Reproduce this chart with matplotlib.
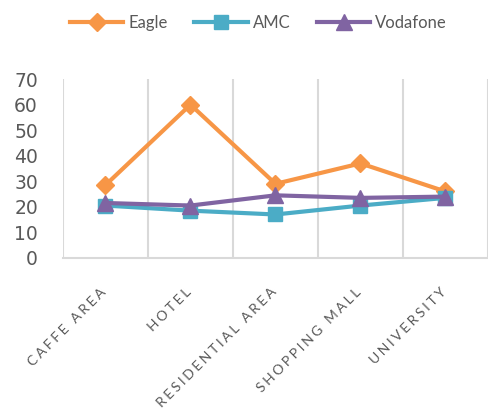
import numpy as np
import matplotlib
matplotlib.use('Agg')
from matplotlib import pyplot as plt
from matplotlib.transforms import ScaledTranslation

# data
places = ['CAFFE AREA', 'HOTEL', 'RESIDENTIAL AREA', 'SHOPPING MALL', 'UNIVERSITY']
eagle = [28.5, 60, 29, 37, 26]
amc = [20.5, 18.5, 17, 20.5, 23.5]
vodafone = [21.5, 20.5, 24.5, 23.5, 24]

grey = '#595959'
grid = '#D9D9D9'

fig = plt.figure(figsize=(4.88, 4.12), dpi=100)
ax = fig.add_axes([0.129, 0.374, 0.871, 0.434])

x = np.arange(len(places))
ax.plot(x, eagle, color='#F79646', lw=3, marker='D', ms=9, label='Eagle')
ax.plot(x, amc, color='#4BACC6', lw=3, marker='s', ms=10, label='AMC')
ax.plot(x, vodafone, color='#8064A2', lw=3, marker='^', ms=11, label='Vodafone')

ax.set_xlim(-0.5, len(places) - 0.5)
ax.set_ylim(0, 70)
ax.set_yticks(range(0, 71, 10))
ax.tick_params(axis='y', length=0, pad=18, labelsize=13.5, labelcolor=grey)

# vertical gridlines sit between categories
for b in np.arange(-0.5, len(places), 1.0):
    ax.axvline(b, color=grid, lw=1.5, zorder=0)

for s in ['top', 'right', 'left']:
    ax.spines[s].set_visible(False)
ax.spines['bottom'].set_color(grid)
ax.spines['bottom'].set_linewidth(1.5)

ax.set_xticks(x)
spaced = ['\u2009\u200a'.join(p) for p in places]
ax.set_xticklabels(spaced, rotation=45, ha='right', rotation_mode='anchor',
                   fontsize=10, color=grey, family=['Lato', 'DejaVu Sans'])
ax.tick_params(axis='x', length=0, pad=20)
# nudge the slanted labels a bit to the left
shift = ScaledTranslation(-4 / 72, 0, fig.dpi_scale_trans)
for lab in ax.get_xticklabels():
    lab.set_transform(lab.get_transform() + shift)

fig.legend(loc='upper center', bbox_to_anchor=(0.53, 1.0), ncol=3, frameon=False,
           labelcolor=grey, handlelength=3.2, columnspacing=1.6,
           handletextpad=0.3, prop={'family': 'Lato', 'size': 12})

fig.savefig('out.png', dpi=100)
